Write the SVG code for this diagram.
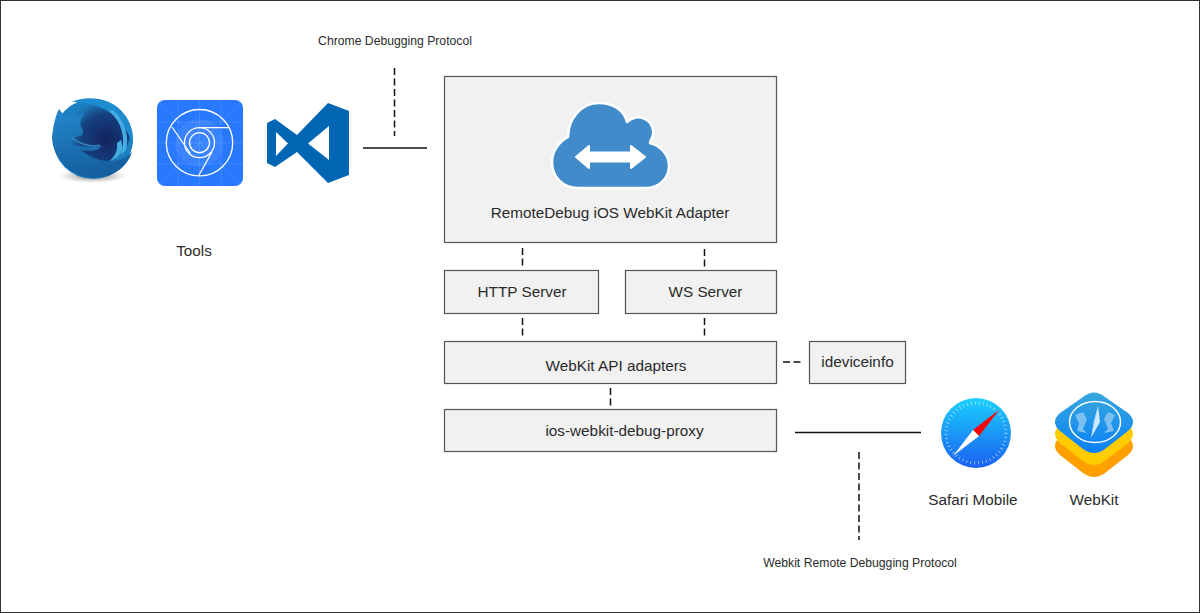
<svg xmlns="http://www.w3.org/2000/svg" width="1200" height="613" viewBox="0 0 1200 613">
<defs>
<style>
.box{fill:#f1f1f1;stroke:#555;stroke-width:1.2}
.t{font-family:"Liberation Sans",Arial,sans-serif;fill:#2b2b2b;text-anchor:middle}
.m{font-size:15.3px}
.s{font-size:12.2px}
.solid{stroke:#111;stroke-width:1.5;fill:none}
.dash{stroke:#111;stroke-width:1.5;fill:none;stroke-dasharray:7 3.500}
.grid{stroke:#fff;stroke-width:1;opacity:0.1;fill:none}
</style>
<linearGradient id="saf" x1="0" y1="0" x2="0" y2="1"><stop offset="0" stop-color="#1bd0fd"/><stop offset="1" stop-color="#1a60f0"/></linearGradient>
<linearGradient id="wk" x1="0" y1="0" x2="0" y2="1"><stop offset="0" stop-color="#38a8dc"/><stop offset="1" stop-color="#0a80fa"/></linearGradient>
<linearGradient id="fxbody" x1="0" y1="0" x2="0.3" y2="1"><stop offset="0" stop-color="#2288cc"/><stop offset="1" stop-color="#155f9e"/></linearGradient>
<radialGradient id="fxglobe" cx="0.6" cy="0.6" r="0.6"><stop offset="0" stop-color="#14235f"/><stop offset="0.7" stop-color="#15407f"/><stop offset="1" stop-color="#1c74b4"/></radialGradient>
<radialGradient id="shadow" cx="0.5" cy="0.5" r="0.5"><stop offset="0" stop-color="#555" stop-opacity="0.8"/><stop offset="1" stop-color="#888" stop-opacity="0"/></radialGradient>
<path id="dia" d="M1083 397Q1094 388 1105 397L1128 413Q1138 422 1128 431L1105 449Q1094 457 1083 449L1060 431Q1050 422 1060 413Z"/>
</defs>
<rect x="0.500" y="0.500" width="1199" height="612" fill="#fff" stroke="#333" stroke-width="1"/>
<g id="connectors">
<path class="solid" d="M363 148H427M795 432.500H921"/>
<path class="dash" d="M394.500 68V136M522.500 248V266M704.500 249V267M522.500 318V336M704.500 318V336M610.500 388V406M783 362H803M859 452V540"/>
</g>
<g id="firefox">
<ellipse cx="93" cy="176" rx="34" ry="7" fill="url(#shadow)"/>
<circle cx="93" cy="139" r="40" fill="#1c7fc2"/>
<circle cx="100" cy="133" r="30" fill="url(#fxglobe)"/>
<path d="M72 102C85 96 105 97 118 108C128 117 134 130 133 145C128 130 118 116 104 109C94 104 84 102 72 102Z" fill="#1f8ccf"/>
<path d="M109 111C122 122 127 140 120 156L126 150C130 136 124 120 113 110ZM117 143C118 152 114 158 107 163L118 157C123 152 123 146 121 140Z" fill="#43ade2"/>
<path d="M59 109C56 114 53 126 52 138C53 158 70 177 94 178C112 178 127 168 132 152C124 161 112 162 100 160C90 157 84 152 80 150C88 151 98 152 102 146C92 148 82 146 74 145C70 141 72 137 80 136C84 135 84 131 81 127C79 122 82 116 85 112C79 116 72 116 66 118Z" fill="url(#fxbody)"/>
<path d="M72 138C78 143 90 148 100 145" fill="none" stroke="#4aa5dc" stroke-width="1.500" opacity="0.7"/>
</g>
<g id="chrome">
<rect x="157" y="100" width="86" height="86" rx="8" fill="#2979ff"/>
<path class="grid" d="M157 100L243 186M243 100L157 186M199.500 100V186M157 143H243M178 100V186M221 100V186M157 122H243M157 164H243"/>
<circle cx="199.500" cy="143" r="24" fill="#fff" opacity="0.08"/>
<g fill="none" stroke="#fff" stroke-width="1.300">
<circle cx="199.500" cy="142.700" r="33.200"/>
<circle cx="199.500" cy="142.700" r="15"/>
<circle cx="199.500" cy="142.700" r="10"/>
<path d="M199.500 127.700H229M172 127L190 153M212 152L199 175"/>
</g>
</g>
<g id="vscode">
<path fill-rule="evenodd" d="M267 123L275 119L297 135L328 103L349 111V175L328 183L297 152L275 167L267 163ZM276 132V156L288 143.500ZM329 126L308 143.500L329 160Z" fill="#0065b3"/>
</g>
<g id="adapter">
<rect class="box" x="444.500" y="76.500" width="332" height="166"/>
<path d="M578 188C563 188 552 177 552 162C552 151 559 142 568 137C568 118 582 103 599 103C613 103 624 110 627 122C632 117 640 116 645 119C652 122 655 131 652 138C650 141 650 142 650 143C661 146 669 155 669 166C669 179 658 188 646 188Z" fill="#428bca" stroke="#fff" stroke-width="2.500" stroke-linejoin="round"/>
<path d="M576 157L589 146V152.500H631V146L645 157L631 168V161.500H589V168Z" fill="#fff" stroke="#fff" stroke-width="2" stroke-linejoin="round"/>
<text class="t m" x="610" y="218">RemoteDebug iOS WebKit Adapter</text>
</g>
<g id="http-server"><rect class="box" x="444.500" y="270.500" width="154" height="43"/><text class="t m" x="522" y="297">HTTP Server</text></g>
<g id="ws-server"><rect class="box" x="625.500" y="270.500" width="151" height="43"/><text class="t m" x="705.500" y="297">WS Server</text></g>
<g id="webkit-api"><rect class="box" x="444.500" y="341.500" width="332" height="42"/><text class="t m" x="616" y="371">WebKit API adapters</text></g>
<g id="ideviceinfo"><rect class="box" x="809.500" y="341.500" width="96" height="42"/><text class="t m" x="857.500" y="367">ideviceinfo</text></g>
<g id="proxy"><rect class="box" x="444.500" y="409.500" width="332" height="42"/><text class="t m" x="624.500" y="436">ios-webkit-debug-proxy</text></g>
<g id="safari">
<circle cx="976" cy="433" r="35" fill="url(#saf)"/>
<circle cx="976" cy="433" r="30" fill="none" stroke="#fff" stroke-width="3" stroke-dasharray="0.800 3.200" opacity="0.6"/>
<path d="M999 410L973 430L979 436Z" fill="#f00"/>
<path d="M953 456L973 430L979 436Z" fill="#fff"/>
</g>
<g id="webkit">
<use href="#dia" y="24" fill="#ff9f00"/>
<use href="#dia" y="12" fill="#ffcc00"/>
<use href="#dia" fill="url(#wk)"/>
<ellipse cx="1095" cy="422" rx="25.500" ry="20.500" fill="none" stroke="#fff" stroke-width="1.500"/>
<path d="M1083 412L1087 419L1083 429L1087 433L1077 431L1079 423L1075 415ZM1108 412L1104 419L1108 429L1104 433L1114 431L1111 423L1115 415Z" fill="#7cc0f2"/>
<path d="M1098 406L1091 438L1094 421Z" fill="#fff"/>
<path d="M1098 406L1091 438L1100 422Z" fill="#cfe8fc"/>
</g>
<g id="labels">
<text class="t s" x="395" y="45">Chrome Debugging Protocol</text>
<text class="t m" x="194" y="256">Tools</text>
<text class="t m" x="973" y="505">Safari Mobile</text>
<text class="t m" x="1094" y="505">WebKit</text>
<text class="t s" x="860" y="567">Webkit Remote Debugging Protocol</text>
</g>
</svg>
